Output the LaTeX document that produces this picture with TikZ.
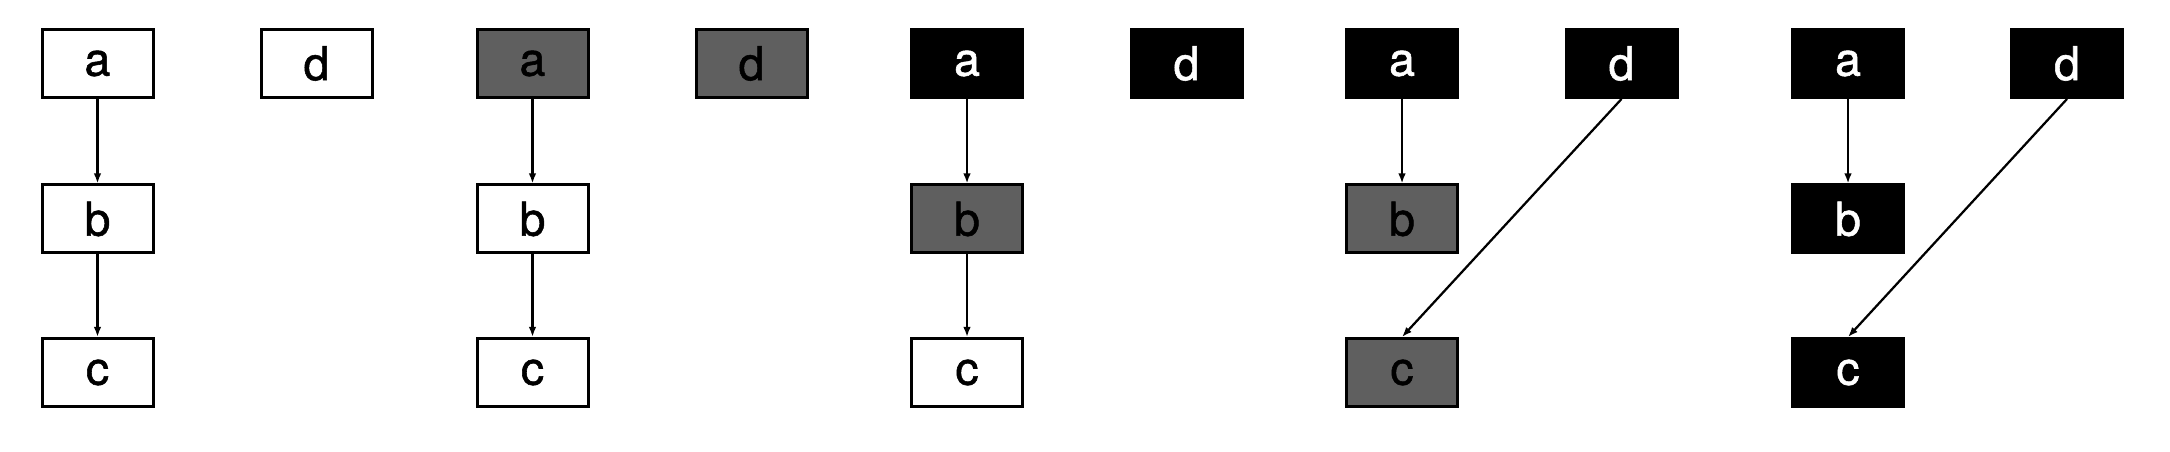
\documentclass[tikz,border=0pt]{standalone}
\usepackage{fontspec}
\setmainfont{TeX Gyre Heros}
\newfontfamily\boxfont{TeX Gyre Heros}[FakeBold=1.2]
\usetikzlibrary{arrows.meta}

\tikzset{
	box/.style={draw=black,line width=0.06cm,minimum width=2.22cm,minimum height=1.36cm,inner sep=0pt,font=\boxfont\fontsize{26.5}{26.5}\selectfont},
	wbox/.style={box,fill=white,text=black},
	gbox/.style={box,fill=gray60,text=black},
	kbox/.style={box,fill=black,text=white},
	link/.style={-{Latex[length=0.2cm,width=0.15cm]},line width=0.045cm}
}
\definecolor{gray60}{RGB}{95,95,95}

\begin{document}
\begin{tikzpicture}
	\useasboundingbox (0,0) rectangle (43.4,9.04);
	%panel 1: all white
	\node[wbox] (a1) at (1.95,7.77)  {a};
	\node[wbox] (b1) at (1.95,4.66)  {b};
	\node[wbox] (c1) at (1.95,1.59)  {c};
	\node[wbox] (d1) at (6.33,7.77)  {d};
		\draw[link] (a1)--(b1);
		\draw[link] (b1)--(c1);
	%panel 2: a and d grey
	\node[gbox] (a2) at (10.65,7.77) {a};
	\node[wbox] (b2) at (10.65,4.66) {b};
	\node[wbox] (c2) at (10.65,1.59) {c};
	\node[gbox] (d2) at (15.03,7.77) {d};
		\draw[link] (a2)--(b2);
		\draw[link] (b2)--(c2);
	%panel 3: a and d black, b grey
	\node[kbox] (a3) at (19.34,7.77) {a};
	\node[gbox] (b3) at (19.34,4.66) {b};
	\node[wbox] (c3) at (19.34,1.59) {c};
	\node[kbox] (d3) at (23.73,7.77) {d};
		\draw[link] (a3)--(b3);
		\draw[link] (b3)--(c3);
	%panel 4: b and c grey, d now points to c
	\node[kbox] (a4) at (28.04,7.77) {a};
	\node[gbox] (b4) at (28.04,4.66) {b};
	\node[gbox] (c4) at (28.04,1.59) {c};
	\node[kbox] (d4) at (32.43,7.77) {d};
		\draw[link] (a4)--(b4);
		\draw[link] (d4.south)--(c4.north);
	%panel 5: all black
	\node[kbox] (a5) at (36.96,7.77) {a};
	\node[kbox] (b5) at (36.96,4.66) {b};
	\node[kbox] (c5) at (36.96,1.59) {c};
	\node[kbox] (d5) at (41.34,7.77) {d};
		\draw[link] (a5)--(b5);
		\draw[link] (d5.south)--(c5.north);
\end{tikzpicture}
\end{document}
